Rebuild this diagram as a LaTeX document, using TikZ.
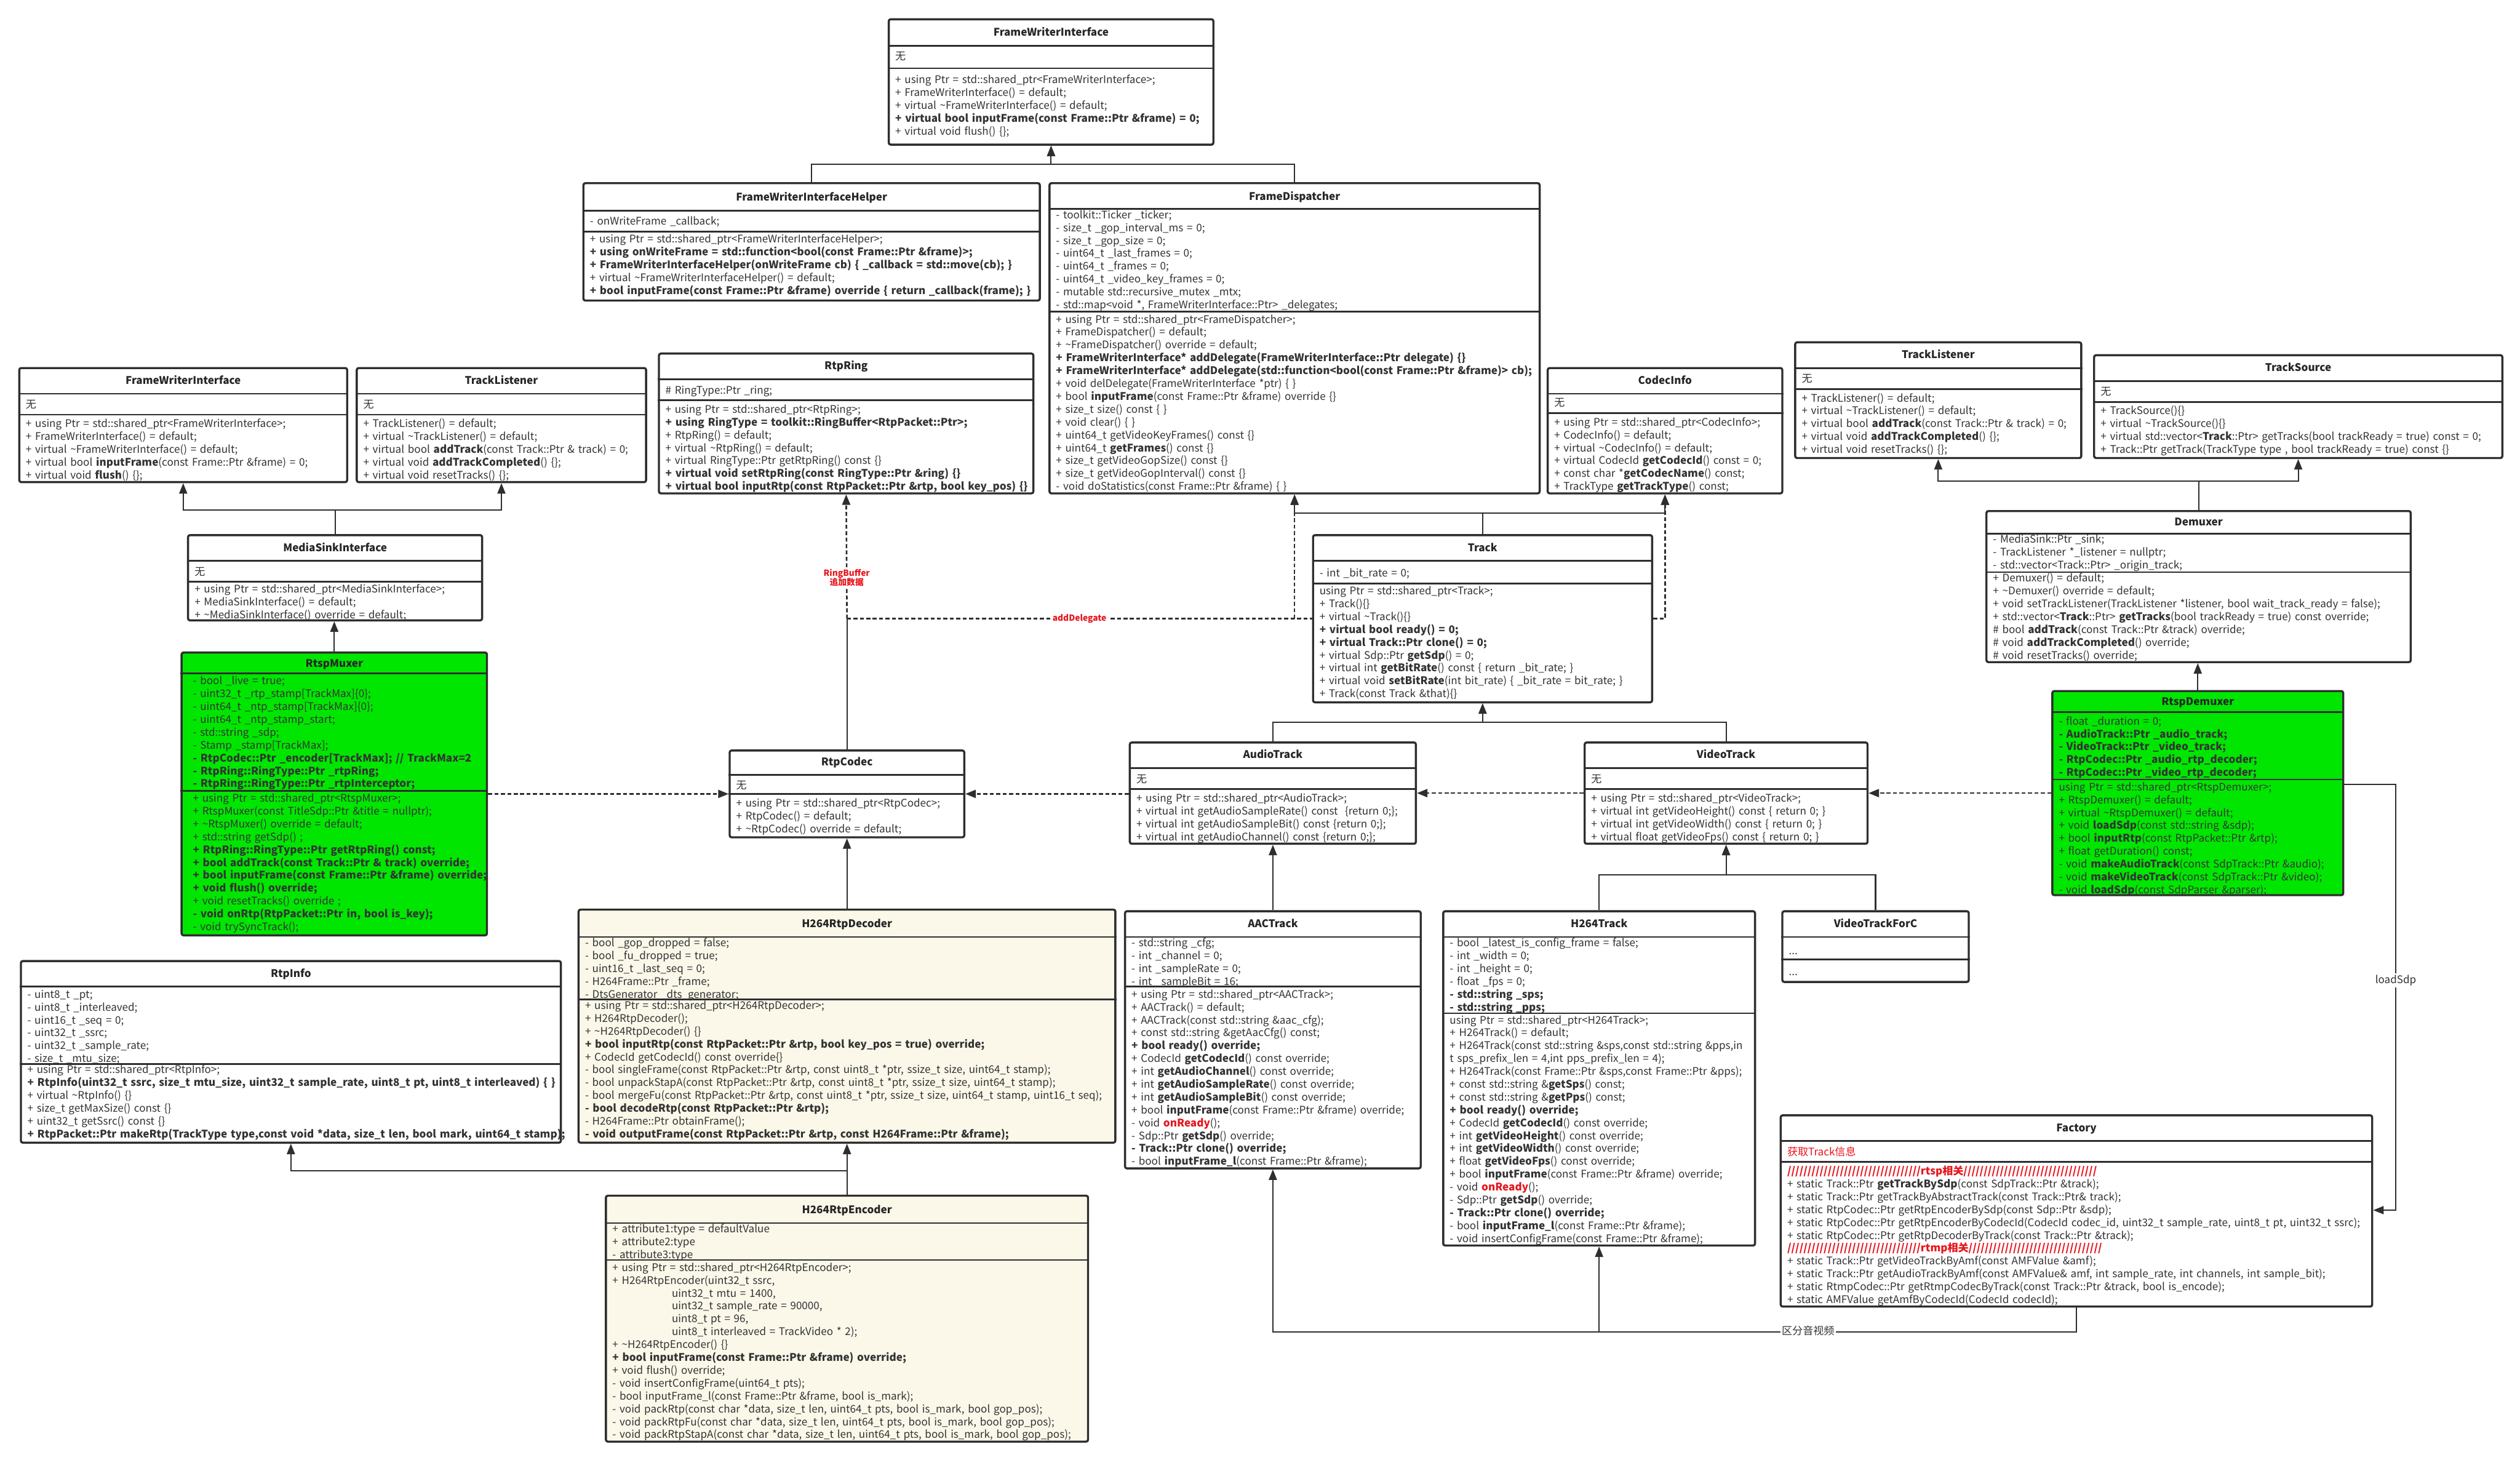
\documentclass[tikz,border=0pt]{standalone}
\usepackage{fontspec}
\setmainfont{Noto Sans CJK SC}
\usetikzlibrary{arrows.meta, positioning, fit, calc}

\newcommand{\memfont}{\fontsize{18.6pt}{22.76pt}\selectfont}
\newcommand{\tld}{\textasciitilde}

% one UML class: [fill]{name}{top left}{bottom right}{title}{title y}{1st rule y}{2nd rule y}
\newcommand{\umlclass}[8][white]{%
  \coordinate (#2-a) at (#3);
  \coordinate (#2-b) at (#4);
  \node[classbox, fill=#1, fit=(#2-a)(#2-b)] (#2) {};
  \node[ttl] (#2-title) at (#2.north |- 0,#6) {#5};
  \draw[sepline] (#2.west |- 0,#7) -- (#2.east |- 0,#7);
  \draw[sepline] (#2.west |- 0,#8) -- (#2.east |- 0,#8);
}

\begin{document}
\begin{tikzpicture}[x=1mm, y=-1mm]

% ---------------------------------------------------------------- colours
\definecolor{boxline}{HTML}{2E2E2E}
\definecolor{muxgreen}{HTML}{00E600}   % the two rtsp classes
\definecolor{codeccream}{HTML}{FBF8EA} % the h264 rtp coder pair
\definecolor{memtext}{HTML}{333333}
\definecolor{notered}{HTML}{E8141B}

\tikzset{
    classbox/.style={draw=boxline, line width=1.3mm, rounded corners=1.2mm, inner sep=0pt},
    ttl/.style={font=\memfont\bfseries, text=black!85, anchor=base, yshift=-2mm, inner sep=0pt},
    mem/.style={font=\memfont, text=memtext, text width=480mm, align=left,
        anchor=base west, yshift=-2mm, inner sep=0pt},
    sepline/.style={draw=boxline, line width=1.1mm},
    link/.style={draw=boxline, line width=0.8mm},
    inh/.style={link, -{Triangle[length=6.5mm, width=5mm]}},
    depline/.style={link, line width=1mm, dash pattern=on 2.5mm off 1.5mm},
    dep/.style={depline, -{Triangle[length=6.5mm, width=5mm]}},
    lbl/.style={font=\fontsize{15pt}{17pt}\selectfont\bfseries, text=notered, fill=white, align=center, inner sep=1mm},
    note/.style={font=\memfont, text=memtext, fill=white, inner sep=1mm},
}

\useasboundingbox (0,0) rectangle (1568,910);
\fill[white] (0,0) rectangle (1568,910);

% ================================================================
% top: the frame writer family
% ================================================================
\umlclass{fwiTop}{553,12}{755,90}{FrameWriterInterface}{20.5}{28.5}{42.5}
\node[mem] (fwiTop-attrs) at (557,35.5) {无};
\node[mem] (fwiTop-ops) at (557,50) {+ using Ptr = std::shared\_ptr<FrameWriterInterface>;\\
  + FrameWriterInterface() = default;\\
  + virtual \tld FrameWriterInterface() = default;\\
  \textbf{+ virtual bool inputFrame(const Frame::Ptr \&frame) = 0;}\\
  + virtual void flush() \{\};};

\umlclass{fwiHelper}{363,114}{647,187}{FrameWriterInterfaceHelper}{123}{131}{144}
\node[mem] (fwiHelper-attrs) at (367,138) {- onWriteFrame \_callback;};
\node[mem] (fwiHelper-ops) at (367,149) {+ using Ptr = std::shared\_ptr<FrameWriterInterfaceHelper>;\\
  \textbf{+ using onWriteFrame = std::function<bool(const Frame::Ptr \&frame)>;}\\
  \textbf{+ FrameWriterInterfaceHelper(onWriteFrame cb) \{ \_callback = std::move(cb); \}}\\
  + virtual \tld FrameWriterInterfaceHelper() = default;\\
  \textbf{+ bool inputFrame(const Frame::Ptr \&frame) override \{ return \_callback(frame); \}}};

\umlclass{frameDisp}{653,114}{958,307}{FrameDispatcher}{122.5}{130}{194}
\node[mem] (frameDisp-attrs) at (657,134) {- toolkit::Ticker \_ticker;\\
  - size\_t \_gop\_interval\_ms = 0;\\
  - size\_t \_gop\_size = 0;\\
  - uint64\_t \_last\_frames = 0;\\
  - uint64\_t \_frames = 0;\\
  - uint64\_t \_video\_key\_frames = 0;\\
  - mutable std::recursive\_mutex \_mtx;\\
  - std::map<void *, FrameWriterInterface::Ptr> \_delegates;};
\node[mem] (frameDisp-ops) at (657,199) {+ using Ptr = std::shared\_ptr<FrameDispatcher>;\\
  + FrameDispatcher() = default;\\
  + \tld FrameDispatcher() override = default;\\
  \textbf{+ FrameWriterInterface* addDelegate(FrameWriterInterface::Ptr delegate) \{\}}\\
  \textbf{+ FrameWriterInterface* addDelegate(std::function<bool(const Frame::Ptr \&frame)> cb);}\\
  + void delDelegate(FrameWriterInterface *ptr) \{ \}\\
  + bool \textbf{inputFrame}(const Frame::Ptr \&frame) override \{\}\\
  + size\_t size() const \{ \}\\
  + void clear() \{ \}\\
  + uint64\_t getVideoKeyFrames() const \{\}\\
  + uint64\_t \textbf{getFrames}() const \{\}\\
  + size\_t getVideoGopSize() const \{\}\\
  + size\_t getVideoGopInterval() const \{\}\\
  - void doStatistics(const Frame::Ptr \&frame) \{ \}};

% ================================================================
% left column: the muxer side
% ================================================================
\umlclass{fwiLeft}{12,229}{216,300}{FrameWriterInterface}{237}{245}{258}
\node[mem] (fwiLeft-attrs) at (16,252) {无};
\node[mem] (fwiLeft-ops) at (16,264) {+ using Ptr = std::shared\_ptr<FrameWriterInterface>;\\
  + FrameWriterInterface() = default;\\
  + virtual \tld FrameWriterInterface() = default;\\
  + virtual bool \textbf{inputFrame}(const Frame::Ptr \&frame) = 0;\\
  + virtual void \textbf{flush}() \{\};};

\umlclass{tlLeft}{222,229}{402,300}{TrackListener}{237}{245}{258}
\node[mem] (tlLeft-attrs) at (226,252) {无};
\node[mem] (tlLeft-ops) at (226,264) {+ TrackListener() = default;\\
  + virtual \tld TrackListener() = default;\\
  + virtual bool \textbf{addTrack}(const Track::Ptr \& track) = 0;\\
  + virtual void \textbf{addTrackCompleted}() \{\};\\
  + virtual void resetTracks() \{\};};

\umlclass{msi}{117,333}{300,386}{MediaSinkInterface}{341}{349}{362}
\node[mem] (msi-attrs) at (121,356) {无};
\node[mem] (msi-ops) at (121,367) {+ using Ptr = std::shared\_ptr<MediaSinkInterface>;\\
  + MediaSinkInterface() = default;\\
  + \tld MediaSinkInterface() override = default;};

\umlclass[muxgreen]{rtspMuxer}{113,406}{303,582}{RtspMuxer}{413}{419}{492}
\node[mem] (rtspMuxer-attrs) at (120,424) {- bool \_live = true;\\
  - uint32\_t \_rtp\_stamp[TrackMax]\{0\};\\
  - uint64\_t \_ntp\_stamp[TrackMax]\{0\};\\
  - uint64\_t \_ntp\_stamp\_start;\\
  - std::string \_sdp;\\
  - Stamp \_stamp[TrackMax];\\
  \textbf{- RtpCodec::Ptr \_encoder[TrackMax]; // TrackMax=2}\\
  \textbf{- RtpRing::RingType::Ptr \_rtpRing;}\\
  \textbf{- RtpRing::RingType::Ptr \_rtpInterceptor;}};
\node[mem] (rtspMuxer-ops) at (120,497) {+ using Ptr = std::shared\_ptr<RtspMuxer>;\\
  + RtspMuxer(const TitleSdp::Ptr \&title = nullptr);\\
  + \tld RtspMuxer() override = default;\\
  + std::string getSdp() ;\\
  \textbf{+ RtpRing::RingType::Ptr getRtpRing() const;}\\
  \textbf{+ bool addTrack(const Track::Ptr \& track) override;}\\
  \textbf{+ bool inputFrame(const Frame::Ptr \&frame) override;}\\
  \textbf{+ void flush() override;}\\
  + void resetTracks() override ;\\
  \textbf{- void onRtp(RtpPacket::Ptr in, bool is\_key);}\\
  - void trySyncTrack();};

\umlclass{rtpInfo}{13,598}{349,711}{RtpInfo}{606}{614}{662}
\node[mem] (rtpInfo-attrs) at (17,619) {- uint8\_t \_pt;\\
  - uint8\_t \_interleaved;\\
  - uint16\_t \_seq = 0;\\
  - uint32\_t \_ssrc;\\
  - uint32\_t \_sample\_rate;\\
  - size\_t \_mtu\_size;};
\node[mem] (rtpInfo-ops) at (17,666) {+ using Ptr = std::shared\_ptr<RtpInfo>;\\
  \textbf{+ RtpInfo(uint32\_t ssrc, size\_t mtu\_size, uint32\_t sample\_rate, uint8\_t pt, uint8\_t interleaved) \{ \}}\\
  + virtual \tld RtpInfo() \{\}\\
  + size\_t getMaxSize() const \{\}\\
  + uint32\_t getSsrc() const \{\}\\
  \textbf{+ RtpPacket::Ptr makeRtp(TrackType type,const void *data, size\_t len, bool mark, uint64\_t stamp);}};

% ================================================================
% middle: rtp ring, codec and the h264 coders
% ================================================================
\umlclass{rtpRing}{410,220}{643,307}{RtpRing}{228}{236}{249}
\node[mem] (rtpRing-attrs) at (414,243) {\# RingType::Ptr \_ring;};
\node[mem] (rtpRing-ops) at (414,255) {+ using Ptr = std::shared\_ptr<RtpRing>;\\
  \textbf{+ using RingType = toolkit::RingBuffer<RtpPacket::Ptr>;}\\
  + RtpRing() = default;\\
  + virtual \tld RtpRing() = default;\\
  + virtual RingType::Ptr getRtpRing() const \{\}\\
  \textbf{+ virtual void setRtpRing(const RingType::Ptr \&ring) \{\}}\\
  \textbf{+ virtual bool inputRtp(const RtpPacket::Ptr \&rtp, bool key\_pos) \{\}}};

\umlclass{rtpCodec}{454,467}{600,521}{RtpCodec}{474.5}{482}{494}
\node[mem] (rtpCodec-attrs) at (458,489) {无};
\node[mem] (rtpCodec-ops) at (458,500) {+ using Ptr = std::shared\_ptr<RtpCodec>;\\
  + RtpCodec() = default;\\
  + \tld RtpCodec() override = default;};

\umlclass[codeccream]{h264Dec}{360,566}{694,711}{H264RtpDecoder}{575}{583}{622}
\node[mem] (h264Dec-attrs) at (364,587) {- bool \_gop\_dropped = false;\\
  - bool \_fu\_dropped = true;\\
  - uint16\_t \_last\_seq = 0;\\
  - H264Frame::Ptr \_frame;\\
  - DtsGenerator \_dts\_generator;};
\node[mem] (h264Dec-ops) at (364,626) {+ using Ptr = std::shared\_ptr<H264RtpDecoder>;\\
  + H264RtpDecoder();\\
  + \tld H264RtpDecoder() \{\}\\
  \textbf{+ bool inputRtp(const RtpPacket::Ptr \&rtp, bool key\_pos = true) override;}\\
  + CodecId getCodecId() const override\{\}\\
  - bool singleFrame(const RtpPacket::Ptr \&rtp, const uint8\_t *ptr, ssize\_t size, uint64\_t stamp);\\
  - bool unpackStapA(const RtpPacket::Ptr \&rtp, const uint8\_t *ptr, ssize\_t size, uint64\_t stamp);\\
  - bool mergeFu(const RtpPacket::Ptr \&rtp, const uint8\_t *ptr, ssize\_t size, uint64\_t stamp, uint16\_t seq);\\
  \textbf{- bool decodeRtp(const RtpPacket::Ptr \&rtp);}\\
  - H264Frame::Ptr obtainFrame();\\
  \textbf{- void outputFrame(const RtpPacket::Ptr \&rtp, const H264Frame::Ptr \&frame);}};

\umlclass[codeccream]{h264Enc}{377,744}{677,897}{H264RtpEncoder}{753}{761}{784}
\node[mem] (h264Enc-attrs) at (381,765) {+ attribute1:type = defaultValue\\
  + attribute2:type\\
  - attribute3:type};
\node[mem] (h264Enc-ops) at (381,789) {+ using Ptr = std::shared\_ptr<H264RtpEncoder>;\\
  + H264RtpEncoder(uint32\_t ssrc,\\
  \hspace*{37mm}uint32\_t mtu = 1400,\\
  \hspace*{37mm}uint32\_t sample\_rate = 90000,\\
  \hspace*{37mm}uint8\_t pt = 96,\\
  \hspace*{37mm}uint8\_t interleaved = TrackVideo * 2);\\
  + \tld H264RtpEncoder() \{\}\\
  \textbf{+ bool inputFrame(const Frame::Ptr \&frame) override;}\\
  + void flush() override;\\
  - void insertConfigFrame(uint64\_t pts);\\
  - bool inputFrame\_l(const Frame::Ptr \&frame, bool is\_mark);\\
  - void packRtp(const char *data, size\_t len, uint64\_t pts, bool is\_mark, bool gop\_pos);\\
  - void packRtpFu(const char *data, size\_t len, uint64\_t pts, bool is\_mark, bool gop\_pos);\\
  - void packRtpStapA(const char *data, size\_t len, uint64\_t pts, bool is\_mark, bool gop\_pos);};

% ================================================================
% right half: tracks, demuxer, factory
% ================================================================
\umlclass{codecInfo}{963,229}{1109,307}{CodecInfo}{237}{245}{257}
\node[mem] (codecInfo-attrs) at (967,251) {无};
\node[mem] (codecInfo-ops) at (967,263) {+ using Ptr = std::shared\_ptr<CodecInfo>;\\
  + CodecInfo() = default;\\
  + virtual \tld CodecInfo() = default;\\
  + virtual CodecId \textbf{getCodecId}() const = 0;\\
  + const char *\textbf{getCodecName}() const;\\
  + TrackType \textbf{getTrackType}() const;};

\umlclass{tlRight}{1117,213}{1295,285}{TrackListener}{221}{229}{242}
\node[mem] (tlRight-attrs) at (1121,236) {无};
\node[mem] (tlRight-ops) at (1121,248) {+ TrackListener() = default;\\
  + virtual \tld TrackListener() = default;\\
  + virtual bool \textbf{addTrack}(const Track::Ptr \& track) = 0;\\
  + virtual void \textbf{addTrackCompleted}() \{\};\\
  + virtual void resetTracks() \{\};};

\umlclass{trackSrc}{1303,221}{1557,285}{TrackSource}{229}{237}{250}
\node[mem] (trackSrc-attrs) at (1307,244) {无};
\node[mem] (trackSrc-ops) at (1307,256) {+ TrackSource()\{\}\\
  + virtual \tld TrackSource()\{\}\\
  + virtual std::vector<\textbf{Track}::Ptr> getTracks(bool trackReady = true) const = 0;\\
  + Track::Ptr getTrack(TrackType type , bool trackReady = true) const \{\}};

\umlclass{track}{817,333}{1028,437}{Track}{341}{349}{363}
\node[mem] (track-attrs) at (821,357) {- int \_bit\_rate = 0;};
\node[mem] (track-ops) at (821,368) {using Ptr = std::shared\_ptr<Track>;\\
  + Track()\{\}\\
  + virtual \tld Track()\{\}\\
  \textbf{+ virtual bool ready() = 0;}\\
  \textbf{+ virtual Track::Ptr clone() = 0;}\\
  + virtual Sdp::Ptr \textbf{getSdp}() = 0;\\
  + virtual int \textbf{getBitRate}() const \{ return \_bit\_rate; \}\\
  + virtual void \textbf{setBitRate}(int bit\_rate) \{ \_bit\_rate = bit\_rate; \}\\
  + Track(const Track \&that)\{\}};

\umlclass{demuxer}{1236,318}{1500,412}{Demuxer}{325}{332}{356}
\node[mem] (demuxer-attrs) at (1240,336) {- MediaSink::Ptr \_sink;\\
  - TrackListener *\_listener = nullptr;\\
  - std::vector<Track::Ptr> \_origin\_track;};
\node[mem] (demuxer-ops) at (1240,360) {+ Demuxer() = default;\\
  + \tld Demuxer() override = default;\\
  + void setTrackListener(TrackListener *listener, bool wait\_track\_ready = false);\\
  + std::vector<\textbf{Track}::Ptr> \textbf{getTracks}(bool trackReady = true) const override;\\
  \# bool \textbf{addTrack}(const Track::Ptr \&track) override;\\
  \# void \textbf{addTrackCompleted}() override;\\
  \# void resetTracks() override;};

\umlclass[muxgreen]{rtspDemuxer}{1277,430}{1458,557}{RtspDemuxer}{437}{443}{485}
\node[mem] (rtspDemuxer-attrs) at (1281,449) {- float \_duration = 0;\\
  \textbf{- AudioTrack::Ptr \_audio\_track;}\\
  \textbf{- VideoTrack::Ptr \_video\_track;}\\
  \textbf{- RtpCodec::Ptr \_audio\_rtp\_decoder;}\\
  \textbf{- RtpCodec::Ptr \_video\_rtp\_decoder;}};
\node[mem] (rtspDemuxer-ops) at (1281,490) {using Ptr = std::shared\_ptr<RtspDemuxer>;\\
  + RtspDemuxer() = default;\\
  + virtual \tld RtspDemuxer() = default;\\
  + void \textbf{loadSdp}(const std::string \&sdp);\\
  + bool \textbf{inputRtp}(const RtpPacket::Ptr \&rtp);\\
  + float getDuration() const;\\
  - void \textbf{makeAudioTrack}(const SdpTrack::Ptr \&audio);\\
  - void \textbf{makeVideoTrack}(const SdpTrack::Ptr \&video);\\
  - void \textbf{loadSdp}(const SdpParser \&parser);};

\umlclass{audioTrack}{703,462}{881,525}{AudioTrack}{470}{478}{491}
\node[mem] (audioTrack-attrs) at (707,485) {无};
\node[mem] (audioTrack-ops) at (707,497) {+ using Ptr = std::shared\_ptr<AudioTrack>;\\
  + virtual int getAudioSampleRate() const \ \{return 0;\};\\
  + virtual int getAudioSampleBit() const \{return 0;\};\\
  + virtual int getAudioChannel() const \{return 0;\};};

\umlclass{videoTrack}{986,462}{1162,525}{VideoTrack}{470}{478}{491}
\node[mem] (videoTrack-attrs) at (990,485) {无};
\node[mem] (videoTrack-ops) at (990,497) {+ using Ptr = std::shared\_ptr<VideoTrack>;\\
  + virtual int getVideoHeight() const \{ return 0; \}\\
  + virtual int getVideoWidth() const \{ return 0; \}\\
  + virtual float getVideoFps() const \{ return 0; \}};

\umlclass{aacTrack}{700,567}{884,727}{AACTrack}{575}{583}{614}
\node[mem] (aacTrack-attrs) at (704,587) {- std::string \_cfg;\\
  - int \_channel = 0;\\
  - int \_sampleRate = 0;\\
  - int \_sampleBit = 16;};
\node[mem] (aacTrack-ops) at (704,619) {+ using Ptr = std::shared\_ptr<AACTrack>;\\
  + AACTrack() = default;\\
  + AACTrack(const std::string \&aac\_cfg);\\
  + const std::string \&getAacCfg() const;\\
  \textbf{+ bool ready() override;}\\
  + CodecId \textbf{getCodecId}() const override;\\
  + int \textbf{getAudioChannel}() const override;\\
  + int \textbf{getAudioSampleRate}() const override;\\
  + int \textbf{getAudioSampleBit}() const override;\\
  + bool \textbf{inputFrame}(const Frame::Ptr \&frame) override;\\
  - void \textcolor{notered}{\textbf{onReady}}();\\
  - Sdp::Ptr \textbf{getSdp}() override;\\
  \textbf{- Track::Ptr clone() override;}\\
  - bool \textbf{inputFrame\_l}(const Frame::Ptr \&frame);};

\umlclass{h264Track}{898,567}{1092,775}{H264Track}{575}{583}{630.5}
\node[mem] (h264Track-attrs) at (902,587) {- bool \_latest\_is\_config\_frame = false;\\
  - int \_width = 0;\\
  - int \_height = 0;\\
  - float \_fps = 0;\\
  \textbf{- std::string \_sps;}\\
  \textbf{- std::string \_pps;}};
\node[mem] (h264Track-ops) at (902,635) {using Ptr = std::shared\_ptr<H264Track>;\\
  + H264Track() = default;\\
  + H264Track(const std::string \&sps,const std::string \&pps,in\\
  t sps\_prefix\_len = 4,int pps\_prefix\_len = 4);\\
  + H264Track(const Frame::Ptr \&sps,const Frame::Ptr \&pps);\\
  + const std::string \&\textbf{getSps}() const;\\
  + const std::string \&\textbf{getPps}() const;\\
  \textbf{+ bool ready() override;}\\
  + CodecId \textbf{getCodecId}() const override;\\
  + int \textbf{getVideoHeight}() const override;\\
  + int \textbf{getVideoWidth}() const override;\\
  + float \textbf{getVideoFps}() const override;\\
  + bool \textbf{inputFrame}(const Frame::Ptr \&frame) override;\\
  - void \textcolor{notered}{\textbf{onReady}}();\\
  - Sdp::Ptr \textbf{getSdp}() override;\\
  \textbf{- Track::Ptr clone() override;}\\
  - bool \textbf{inputFrame\_l}(const Frame::Ptr \&frame);\\
  - void insertConfigFrame(const Frame::Ptr \&frame);};

\umlclass{vtForC}{1109,567}{1225,611}{VideoTrackForC}{575}{583}{597}
\node[mem] (vtForC-attrs) at (1113,592) {...};
\node[mem] (vtForC-ops) at (1113,605) {...};

\umlclass{factory}{1108,694}{1476,813}{Factory}{702}{710}{723}
\node[mem, text=notered] (factory-attrs) at (1112,717) {获取Track信息};
\node[mem] (factory-ops) at (1112,729) {\textcolor{notered}{\textbf{/////////////////////////////////rtsp相关/////////////////////////////////}}\\
  + static Track::Ptr \textbf{getTrackBySdp}(const SdpTrack::Ptr \&track);\\
  + static Track::Ptr getTrackByAbstractTrack(const Track::Ptr\& track);\\
  + static RtpCodec::Ptr getRtpEncoderBySdp(const Sdp::Ptr \&sdp);\\
  + static RtpCodec::Ptr getRtpEncoderByCodecId(CodecId codec\_id, uint32\_t sample\_rate, uint8\_t pt, uint32\_t ssrc);\\
  + static RtpCodec::Ptr getRtpDecoderByTrack(const Track::Ptr \&track);\\
  \textcolor{notered}{\textbf{/////////////////////////////////rtmp相关/////////////////////////////////}}\\
  + static Track::Ptr getVideoTrackByAmf(const AMFValue \&amf);\\
  + static Track::Ptr getAudioTrackByAmf(const AMFValue\& amf, int sample\_rate, int channels, int sample\_bit);\\
  + static RtmpCodec::Ptr getRtmpCodecByTrack(const Track::Ptr \&track, bool is\_encode);\\
  + static AMFValue getAmfByCodecId(CodecId codecId);};

% ----------------------------------------------------------------------
% inheritance
% ----------------------------------------------------------------------
\draw[inh] (fwiHelper.north) -- ++(0,-11) -| (fwiTop.south);
\draw[inh] (frameDisp.north) -- ++(0,-11) -| (fwiTop.south);
\draw[inh] (msi.north) -- ++(0,-15) -| (fwiLeft.south);
\draw[inh] (msi.north) -- ++(0,-15) -| (tlLeft.south);
\draw[inh] (rtspMuxer.north) -- (rtspMuxer.north |- msi.south);
\draw[inh] (track.north) -- ++(0,-13) -| (frameDisp.south);
\draw[inh] (track.north) -- ++(0,-13) -| (codecInfo.south);
\draw[inh] (audioTrack.north) -- ++(0,-12) -| (track.south);
\draw[inh] (videoTrack.north) -- ++(0,-12) -| (track.south);
\draw[inh] (rtspDemuxer.north) -- (rtspDemuxer.north |- demuxer.south);
\draw[inh] (demuxer.north) -- ++(0,-18) -| (tlRight.south);
\draw[inh] (demuxer.north) -- ++(0,-18) -| (trackSrc.south);
\draw[inh] (h264Dec.north) -- (h264Dec.north |- rtpCodec.south);
\draw[inh] (h264Enc.north) -- (h264Enc.north |- h264Dec.south);
\draw[inh] (h264Enc.north) -- ++(0,-15) -| (rtpInfo.south);
\draw[inh] (aacTrack.north) -- (aacTrack.north |- audioTrack.south);
\draw[inh] (h264Track.north) -- ++(0,-22) -| (videoTrack.south);
\draw[inh] (vtForC.north) -- ++(0,-22) -| (videoTrack.south);

% RtpCodec's bases: the dashed run slips behind Track
\coordinate (ringJoin) at (rtpCodec.north |- track.west);
\draw[link] (rtpCodec.north) -- (ringJoin);
\draw[dep] (ringJoin) -- (rtpRing.south) node[lbl, pos=0.33] (lblRing) {RingBuffer\\追加数据};
\draw[depline] (ringJoin) -- (track.west) node[lbl, pos=0.5] (lblDeleg) {addDelegate};
\draw[dep] (frameDisp.south |- track.west) -- (frameDisp.south);
\draw[dep] (track.east) -| (codecInfo.south);

% ----------------------------------------------------------------------
% the dashed row through the middle
% ----------------------------------------------------------------------
\draw[dep] (rtspMuxer.east |- rtpCodec.west) -- (rtpCodec.west);
\draw[dep] (audioTrack.west |- rtpCodec.east) -- (rtpCodec.east);
\draw[dep] (videoTrack.west) -- (audioTrack.east);
\draw[dep] (rtspDemuxer.west |- videoTrack.east) -- (videoTrack.east);

% ----------------------------------------------------------------------
% factory hands out the concrete tracks
% ----------------------------------------------------------------------
\draw[inh] (factory.south) -- ++(0,15) -| (aacTrack.south);
\draw[inh] (factory.south) -- ++(0,15) -| (h264Track.south);
\node[note] (lblSplit) at (1125,828) {区分音视频};

\draw[inh] (rtspDemuxer.east |- 0,488) -- ++(32,0) |- (factory.east |- 0,753)
    node[note, pos=0.23] (lblSdp) {loadSdp};

\end{tikzpicture}
\end{document}
